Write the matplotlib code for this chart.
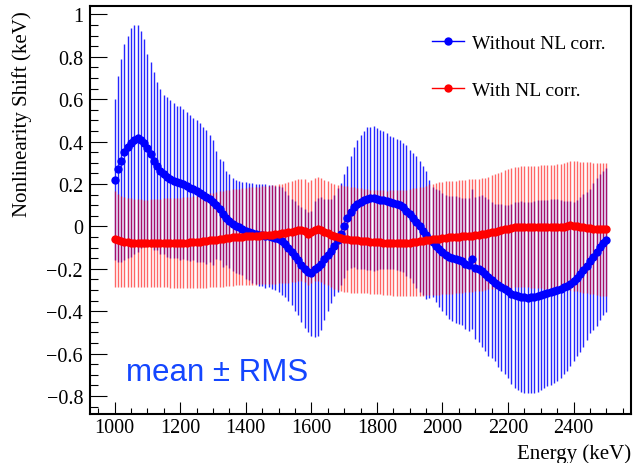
import numpy as np
import matplotlib
matplotlib.use('Agg')
import matplotlib.pyplot as plt
import matplotlib.ticker as ticker
from matplotlib.lines import Line2D

# energy points (keV), one every 10 keV
energy = list(range(1000, 2501, 10))

# without NL correction: mean and RMS (keV)
blue_mean = [
    0.22, 0.27, 0.31, 0.35, 0.375, 0.395, 0.41, 0.415, 0.41, 0.395,
    0.37, 0.34, 0.31, 0.285, 0.26, 0.245, 0.232, 0.222, 0.215, 0.21,
    0.205, 0.20, 0.19, 0.18, 0.175, 0.165, 0.16, 0.15, 0.14, 0.13,
    0.115, 0.10, 0.08, 0.06, 0.04, 0.025, 0.01, 0.0, -0.005, -0.01,
    -0.02, -0.025, -0.03, -0.035, -0.04, -0.04, -0.045, -0.045, -0.05, -0.055,
    -0.06, -0.07, -0.085, -0.10, -0.12, -0.14, -0.16, -0.18, -0.20, -0.215,
    -0.22, -0.20, -0.19, -0.175, -0.155, -0.135, -0.115, -0.09, -0.065, -0.035,
    0.0, 0.04, 0.07, 0.09, 0.105, 0.115, 0.125, 0.13, 0.133, 0.133,
    0.13, 0.127, 0.123, 0.12, 0.115, 0.11, 0.105, 0.10, 0.09, 0.075,
    0.06, 0.04, 0.02, 0.0, -0.02, -0.04, -0.06, -0.075, -0.09, -0.105,
    -0.12, -0.135, -0.145, -0.15, -0.155, -0.16, -0.165, -0.175, -0.18, -0.155,
    -0.195, -0.2, -0.21, -0.225, -0.24, -0.253, -0.265, -0.277, -0.287, -0.297,
    -0.307, -0.317, -0.323, -0.328, -0.332, -0.335, -0.336, -0.335, -0.332, -0.328,
    -0.323, -0.318, -0.314, -0.31, -0.305, -0.3, -0.295, -0.288, -0.28, -0.27,
    -0.258, -0.243, -0.226, -0.207, -0.187, -0.165, -0.142, -0.12, -0.098, -0.078,
    -0.062]
blue_rms = [
    0.38, 0.44, 0.48, 0.51, 0.525, 0.54, 0.54, 0.535, 0.51, 0.49,
    0.445, 0.435, 0.42, 0.395, 0.39, 0.375, 0.378, 0.373, 0.365, 0.36,
    0.365, 0.355, 0.35, 0.345, 0.335, 0.335, 0.327, 0.32, 0.315, 0.30,
    0.295, 0.255, 0.24, 0.25, 0.22, 0.22, 0.22, 0.22, 0.22, 0.22,
    0.23, 0.23, 0.235, 0.235, 0.24, 0.24, 0.245, 0.24, 0.245, 0.245,
    0.25, 0.255, 0.25, 0.25, 0.25, 0.26, 0.26, 0.27, 0.28, 0.285,
    0.295, 0.32, 0.325, 0.315, 0.285, 0.265, 0.245, 0.24, 0.245, 0.24,
    0.245, 0.244, 0.264, 0.283, 0.304, 0.317, 0.326, 0.337, 0.338, 0.343,
    0.334, 0.329, 0.325, 0.323, 0.314, 0.31, 0.309, 0.309, 0.303, 0.308,
    0.302, 0.307, 0.311, 0.308, 0.304, 0.301, 0.28, 0.26, 0.265, 0.275,
    0.28, 0.285, 0.29, 0.295, 0.30, 0.30, 0.30, 0.31, 0.315, 0.33,
    0.335, 0.345, 0.357, 0.365, 0.37, 0.37, 0.372, 0.385, 0.395, 0.40,
    0.41, 0.425, 0.44, 0.445, 0.45, 0.45, 0.45, 0.45, 0.452, 0.452,
    0.447, 0.445, 0.44, 0.44, 0.435, 0.43, 0.42, 0.41, 0.40, 0.39,
    0.375, 0.37, 0.365, 0.36, 0.35, 0.34, 0.345, 0.35, 0.345, 0.34,
    0.34]

# with NL correction: mean and RMS (keV)
red_mean = [
    -0.06, -0.065, -0.07, -0.072, -0.074, -0.076, -0.077, -0.078, -0.078, -0.079,
    -0.079, -0.079, -0.079, -0.078, -0.078, -0.078, -0.078, -0.078, -0.077, -0.077,
    -0.077, -0.076, -0.076, -0.075, -0.074, -0.073, -0.072, -0.07, -0.068, -0.066,
    -0.064, -0.062, -0.06, -0.058, -0.056, -0.054, -0.052, -0.05, -0.05, -0.048,
    -0.047, -0.046, -0.045, -0.044, -0.043, -0.042, -0.041, -0.04, -0.039, -0.037,
    -0.035, -0.033, -0.03, -0.028, -0.025, -0.022, -0.018, -0.015, -0.02, -0.035,
    -0.025, -0.015, -0.013, -0.018, -0.025, -0.032, -0.04, -0.047, -0.052, -0.056,
    -0.059, -0.061, -0.063, -0.065, -0.066, -0.068, -0.069, -0.07, -0.072, -0.073,
    -0.074, -0.075, -0.076, -0.077, -0.077, -0.078, -0.079, -0.079, -0.079, -0.078,
    -0.077, -0.075, -0.073, -0.071, -0.069, -0.066, -0.063, -0.061, -0.059, -0.057,
    -0.055, -0.053, -0.052, -0.051, -0.05, -0.049, -0.047, -0.045, -0.044, -0.043,
    -0.041, -0.04, -0.038, -0.035, -0.031, -0.027, -0.024, -0.021, -0.017, -0.013,
    -0.01, -0.007, -0.004, -0.003, -0.002, -0.002, -0.002, -0.002, -0.002, -0.002,
    -0.002, -0.002, -0.003, -0.004, -0.004, -0.004, -0.003, -0.001, 0.002, 0.005,
    0.003, 0.0, -0.002, -0.004, -0.006, -0.008, -0.01, -0.012, -0.013, -0.013,
    -0.014]
red_rms = [
    0.226, 0.22, 0.215, 0.212, 0.21, 0.208, 0.207, 0.206, 0.206, 0.205,
    0.206, 0.207, 0.208, 0.208, 0.209, 0.21, 0.21, 0.211, 0.212, 0.213,
    0.213, 0.214, 0.215, 0.216, 0.217, 0.218, 0.219, 0.22, 0.221, 0.222,
    0.223, 0.224, 0.225, 0.226, 0.226, 0.227, 0.227, 0.228, 0.228, 0.229,
    0.229, 0.23, 0.23, 0.231, 0.231, 0.232, 0.232, 0.233, 0.233, 0.234,
    0.234, 0.235, 0.236, 0.237, 0.238, 0.239, 0.24, 0.241, 0.242, 0.243,
    0.243, 0.244, 0.244, 0.245, 0.245, 0.246, 0.247, 0.248, 0.249, 0.25,
    0.25, 0.25, 0.25, 0.249, 0.248, 0.247, 0.246, 0.246, 0.245, 0.245,
    0.245, 0.245, 0.246, 0.246, 0.247, 0.248, 0.249, 0.25, 0.251, 0.252,
    0.253, 0.254, 0.255, 0.256, 0.257, 0.259, 0.261, 0.263, 0.264, 0.265,
    0.266, 0.266, 0.266, 0.266, 0.266, 0.266, 0.266, 0.266, 0.266, 0.266,
    0.265, 0.265, 0.265, 0.265, 0.266, 0.268, 0.27, 0.273, 0.276, 0.279,
    0.281, 0.282, 0.283, 0.284, 0.285, 0.285, 0.286, 0.287, 0.288, 0.289,
    0.29, 0.291, 0.292, 0.293, 0.295, 0.297, 0.299, 0.301, 0.303, 0.305,
    0.306, 0.307, 0.308, 0.309, 0.31, 0.31, 0.311, 0.312, 0.313, 0.314,
    0.315]

labels = ['Without NL corr.', 'With NL corr.']
blue = '#0000ff'
red = '#ff0000'

plt.rcParams['font.family'] = ['Liberation Serif', 'DejaVu Serif']
plt.rcParams['axes.unicode_minus'] = True

e = np.array(energy)
bm, bs = np.array(blue_mean), np.array(blue_rms)
rm, rs = np.array(red_mean), np.array(red_rms)

fig = plt.figure(figsize=(6.35, 4.64), dpi=100)
ax = fig.add_axes([90 / 635, 49 / 464, 541 / 635, 408 / 464])

# error bars (mean +- RMS)
ax.vlines(e, bm - bs, bm + bs, color=blue, lw=1.0, alpha=0.85, zorder=2)
ax.vlines(e, rm - rs, rm + rs, color=red, lw=1.0, alpha=0.6, zorder=3)
# mean points
ax.plot(e, bm, 'o', color=blue, ms=6, mew=0, zorder=4)
ax.plot(e, rm, 'o', color=red, ms=6, mew=0, zorder=5)

ax.set_xlim(925, 2575)
ax.set_ylim(-0.885, 1.04)

ax.xaxis.set_major_locator(ticker.MultipleLocator(200))
ax.xaxis.set_minor_locator(ticker.MultipleLocator(50))
ax.yaxis.set_major_locator(ticker.MultipleLocator(0.2))
ax.yaxis.set_minor_locator(ticker.MultipleLocator(0.05))

def yfmt(v, pos):
    s = '{:g}'.format(round(v, 6))
    if s == '-0':
        s = '0'
    return s.replace('-', '\u2212')

ax.yaxis.set_major_formatter(ticker.FuncFormatter(yfmt))

ax.tick_params(which='both', direction='in', top=False, right=False, width=0.8, labelsize=14.5)
ax.tick_params(axis='y', which='major', length=12, pad=5)
ax.tick_params(axis='y', which='minor', length=6)
ax.tick_params(axis='x', which='major', length=8.5, pad=3)
ax.tick_params(axis='x', which='minor', length=4.3)
for sp in ax.spines.values():
    sp.set_linewidth(1.5)

ax.set_ylabel('Nonlinearity Shift (keV)', fontsize=15)
ax.yaxis.set_label_coords(-0.108, 0.738)
ax.set_xlabel('Energy (keV)', fontsize=15, loc='right')
ax.xaxis.set_label_coords(1.0, -0.072)

handles = [Line2D([], [], color=blue, lw=1, marker='o', ms=6, mew=0),
           Line2D([], [], color=red, lw=1, marker='o', ms=6, mew=0)]
ax.legend(handles, labels, loc='upper left', bbox_to_anchor=(0.632, 0.93),
          frameon=False, fontsize=14, handlelength=1.65, handletextpad=0.4,
          labelspacing=1.5, borderpad=0, borderaxespad=0)

ax.text(0.0665, 0.083, 'mean \u00b1 RMS', transform=ax.transAxes, color='#1446ff',
        fontsize=22.5, family=['Liberation Sans', 'DejaVu Sans'], va='baseline', ha='left')

fig.savefig('out.png', dpi=100)
